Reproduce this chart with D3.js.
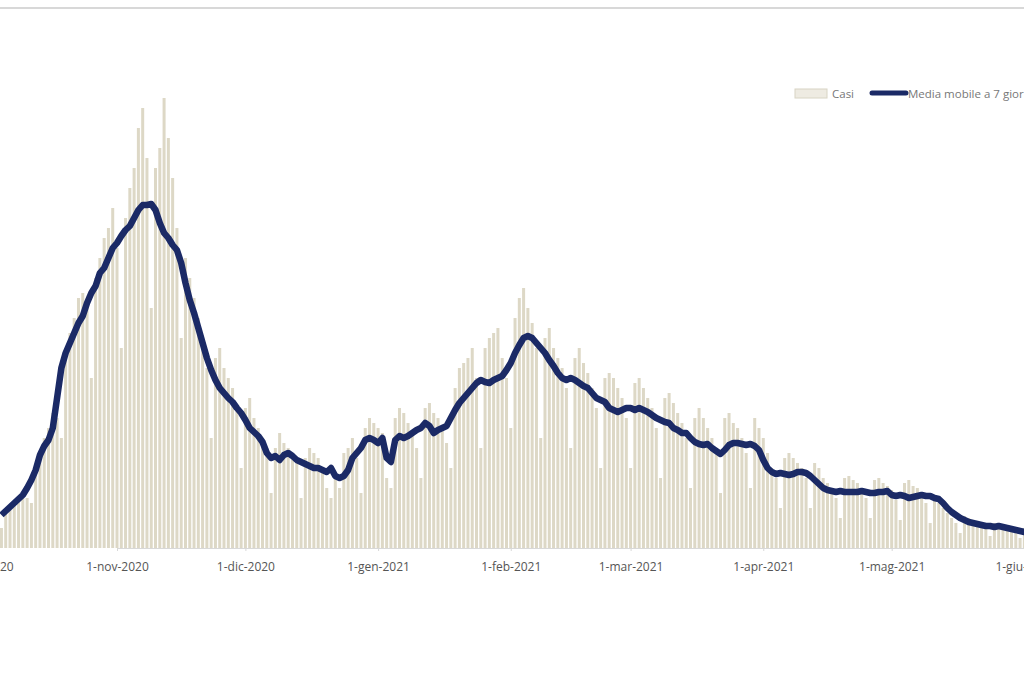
<!DOCTYPE html>
<html><head><meta charset="utf-8">
<script src="https://cdn.jsdelivr.net/npm/d3@7"></script>
<style>body{margin:0;background:#fff;overflow:hidden}</style>
</head><body>
<script>
const startDate = "2020-10-05";
const casi = [
20,35,40,45,50,55,50, 45,80,95,110,120,135,130, 110,200,215,230,250,255,240,
170,270,290,310,320,340,300, 200,330,360,380,420,440,390, 240,380,400,450,410,370,320,
210,290,270,250,230,210,180, 110,190,200,180,170,160,140, 80,140,150,130,120,110,100,
55,100,115,105,100,95,85, 50,90,100,95,90,80,60, 50,70,60,95,100,110,90,
55,120,130,125,120,115,70, 60,130,140,135,125,115,100, 70,140,145,135,130,120,105,
80,160,180,185,190,200,170, 100,200,210,215,220,190,170, 120,230,250,260,240,225,200,
110,210,220,200,190,180,160, 100,190,200,185,175,160,140, 80,170,175,170,160,150,130,
80,165,170,160,150,140,120, 70,150,155,145,135,125,110, 60,130,140,130,120,110,95,
55,130,135,125,120,110,95, 60,130,120,110,95,80,70, 40,90,95,90,85,80,70,
40,85,80,70,65,60,50, 30,70,72,68,65,60,50, 30,68,70,65,62,58,48,
28,65,68,62,60,55,45, 25,50,45,40,35,30,25, 15,32,30,28,26,24,20,
12,25,24,22,21,20,18, 10,20,22].map(v=>v*100);
const media = [
33,37,41,45,49, 53,60,68,78,93, 102,108,120,150,180, 195,205,215,225,232,
245,255,262,275,280, 290,300,305,312,318, 322,330,338,343,343, 344,338,325,315,310,
303,298,285,265,248, 235,220,205,190,178, 168,160,155,150,146, 140,135,128,120,116,
112,106,95,90,92, 88,93,95,92,88, 86,84,82,80,80, 78,76,80,72,70,
72,78,90,95,100, 108,110,108,105,110, 90,86,108,112,110, 112,115,118,120,125,
122,115,118,120,122, 130,138,145,150,155, 160,165,168,166,165, 168,170,172,178,185,
195,203,210,212,210, 205,200,195,188,182, 175,170,168,170,168, 165,162,160,155,150,
148,146,140,138,136, 138,140,140,138,140, 138,136,133,130,128, 126,125,120,118,115,
115,110,106,104,103, 104,100,97,94,98, 103,105,105,104,103, 104,102,98,88,80,
76,74,75,74,73, 74,76,76,75,72, 68,64,60,58,57, 56,57,56,56,56,
56,57,56,55,55, 56,56,57,53,52, 53,52,50,51,52, 53,52,52,50,49,
45,40,36,33,30, 28,26,25,24,23, 22,22,21,22,21, 20,19,18,17,16, 16].map(v=>v*100);
const tickDates = ["2020-10-01","2020-11-01","2020-12-01","2021-01-01","2021-02-01","2021-03-01","2021-04-01","2021-05-01","2021-06-01"];
const tickLabels = ["1-ott-2020","1-nov-2020","1-dic-2020","1-gen-2021","1-feb-2021","1-mar-2021","1-apr-2021","1-mag-2021","1-giu-2021"];
const legendLabels = ["Casi","Media mobile a 7 giorni"];

const W=1024,H=680;
const parse=d3.utcParse("%Y-%m-%d");
const d0=parse(startDate);
const days=casi.map((_,i)=>d3.utcDay.offset(d0,i));
const svg=d3.select("body").append("svg").attr("width",W).attr("height",H);
svg.append("line").attr("x1",0).attr("x2",W).attr("y1",8).attr("y2",8).attr("stroke","#d8d8d8").attr("stroke-width",2);
const px=4.28;
const nov1=parse("2020-11-01");
const x=d3.scaleUtc().domain([nov1,d3.utcDay.offset(nov1,212)]).range([117,117+212*px]);
const y=d3.scaleLinear().domain([0,45000]).range([548,98]);
const g=svg.append("g");
g.selectAll("rect.b").data(casi).join("rect").attr("class","b")
 .attr("x",(d,i)=>x(days[i])-1.5).attr("width",3)
 .attr("y",d=>y(d)).attr("height",d=>548-y(d)).attr("fill","#ddd8c6");
const line=d3.line().x((d,i)=>x(days[i])).y(d=>y(d)).curve(d3.curveLinear);
g.append("path").datum(media).attr("d",line).attr("fill","none")
 .attr("stroke","#1b2a66").attr("stroke-width",6.5).attr("stroke-linejoin","round");
const ax=svg.append("g").attr("transform","translate(0,548)")
 .call(d3.axisBottom(x).tickValues(tickDates.map(parse)).tickFormat((d,i)=>tickLabels[i]).tickSize(3));
ax.select(".domain").attr("stroke","#d8d8d8");
ax.selectAll(".tick line").attr("stroke","#d8d8d8");
ax.selectAll("text").attr("fill","#555").attr("font-family","'Open Sans',sans-serif").attr("font-size",12).attr("dy","1.4em");
const lg=svg.append("g").attr("font-family","'Open Sans',sans-serif").attr("font-size",11.5).attr("fill","#777");
lg.append("rect").attr("x",795).attr("y",89).attr("width",32).attr("height",9).attr("fill","#eeebe2").attr("stroke","#d8d4c4");
lg.append("text").attr("x",832).attr("y",97.5).text(legendLabels[0]);
lg.append("line").attr("x1",872).attr("x2",906).attr("y1",93).attr("y2",93).attr("stroke","#1b2a66").attr("stroke-width",5).attr("stroke-linecap","round");
lg.append("text").attr("x",908).attr("y",97.5).text(legendLabels[1]);
</script>
</body></html>
